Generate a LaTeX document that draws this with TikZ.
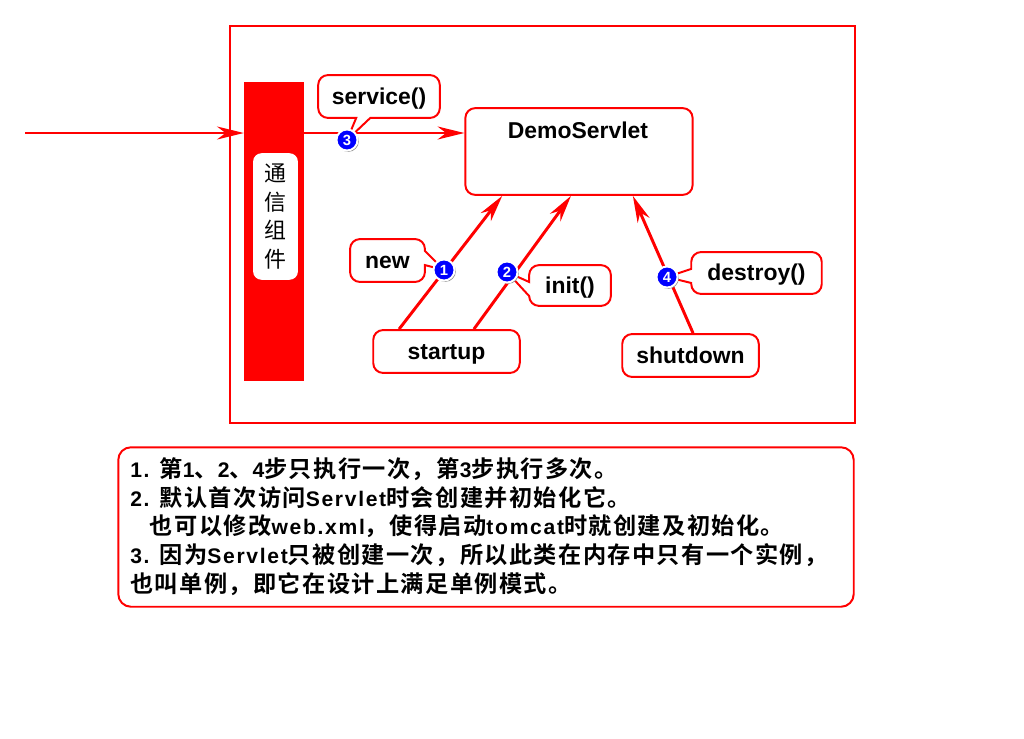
\documentclass[tikz,border=0pt]{standalone}
\usepackage{fontspec}
\setmainfont{Liberation Sans}
\newfontfamily\notefont[LetterSpace=8]{Liberation Sans}
\newfontfamily\cjkfont{Noto Sans CJK SC}
\newfontfamily\cjkbold[LetterSpace=6,UprightFont={* Bold},BoldFont={* Bold}]{Noto Sans CJK SC}
\newcommand\zh[1]{{\cjkbold\fontsize{16.5}{20.5}\selectfont #1}}
\usetikzlibrary{arrows.meta,shapes.callouts,shadows,positioning}

\begin{document}
\begin{tikzpicture}[x=0.025cm,y=-0.025cm,
    roundbox/.style={draw=red,line width=1.4pt,fill=white,rounded corners=7pt,
      inner sep=0pt,text height=11pt,text depth=0pt,font=\bfseries\fontsize{16.3}{18}\selectfont},
    callbox/.style={roundbox,rectangle callout,callout pointer width=10pt},
    flow/.style={draw=red,line width=2.1pt,-{Stealth[length=19pt,width=9.2pt,inset=6pt]}},
    stepnum/.style={circle,fill=blue,draw=white,line width=1.4pt,inner sep=0pt,
      minimum size=15pt,text=white,font=\bfseries\fontsize{10.5}{10.5}\selectfont,
      drop shadow={shadow xshift=0.9pt,shadow yshift=-0.9pt,fill=black!45,opacity=1}}]
  % Page
  \fill[white] (0,0) rectangle (1024,738);
  \useasboundingbox (0,0) rectangle (1024,738);
  % Draw the container
  \draw[red,line width=1.6pt] (230,26) rectangle (855,423);
  % Communication component
  \node[fill=red,inner sep=0pt,minimum width=42.5pt,minimum height=213.3pt] (bar) at (274,231.5) {};
  \node[fill=white,rounded corners=6pt,inner sep=0pt,minimum width=31.9pt,minimum height=90pt,
    align=center,font=\cjkfont\fontsize{15.6}{20.5}\selectfont] (comm) at (275.5,216.5) {通\\信\\组\\件};
  % Servlet and the two events
  \node[roundbox,minimum width=161.6pt,minimum height=61.7pt] (demo) at (579,151.5) {};
  \node[font=\bfseries\fontsize{16.3}{18}\selectfont] (demoname) at (578,130) {DemoServlet};
  \node[roundbox,minimum width=104.2pt,minimum height=30.5pt] (startup) at (446.5,351.5) {startup};
  \node[roundbox,minimum width=97.1pt,minimum height=30.5pt] (shutdown) at (690.5,355.5) {shutdown};
  % Draw the request
  \coordinate (client) at (25,133);
  \draw[flow] (client) -- (client -| bar.west);
  \draw[flow] (client -| bar.east) -- (client -| demo.west);
  % Draw the life cycle calls
  \draw[flow] ([xshift=19.1pt]startup.north west) -- ([xshift=26.9pt]demo.south west);
  \draw[flow] ([xshift=72.3pt]startup.north west) -- ([xshift=75.8pt]demo.south west);
  \draw[flow] ([xshift=1.8pt]shutdown.north) -- ([xshift=-43.2pt]demo.south east);
  % Step marks
  \coordinate (p1) at (444,270);
  \coordinate (p2) at (507,272);
  \coordinate (p3) at (347,140);
  \coordinate (p4) at (667,277);
  \node[callbox,minimum width=86.5pt,minimum height=30.5pt,callout absolute pointer={(p3)}] (service) at (379,96.5) {service()};
  \node[callbox,minimum width=53.2pt,minimum height=30.5pt,callout absolute pointer={(p1)}] (new) at (387.5,260.5) {new};
  \node[callbox,minimum width=58.1pt,minimum height=29pt,callout absolute pointer={(p2)}] (init) at (570,285.5) {init()};
  \node[callbox,minimum width=92.8pt,minimum height=29.8pt,callout absolute pointer={(p4)}] (destroy) at (756.5,273) {destroy()};
  \node[stepnum] (n1) at (p1) {1};
  \node[stepnum] (n2) at (p2) {2};
  \node[stepnum] (n3) at (p3) {3};
  \node[stepnum] (n4) at (p4) {4};
  % Notes
  \node[draw=red,line width=1.4pt,rounded corners=9pt,minimum width=523pt,minimum height=113.4pt,inner sep=0pt] (note) at (486,527) {};
  \node[anchor=north west,align=left,inner sep=0pt,font=\notefont\bfseries\fontsize{15}{20.5}\selectfont] (notetext) at (130,457) {%
    1. \zh{第}1\zh{、}2\zh{、}4\zh{步只执行一次，第}3\zh{步执行多次。}\\
    2. \zh{默认首次访问}Servlet\zh{时会创建并初始化它。}\\
    \hspace*{14pt}\zh{也可以修改}web.xml\zh{，使得启动}tomcat\zh{时就创建及初始化。}\\
    3. \zh{因为}Servlet\zh{只被创建一次，所以此类在内存中只有一个实例，}\\
    \zh{也叫单例，即它在设计上满足单例模式。}};
\end{tikzpicture}
\end{document}
